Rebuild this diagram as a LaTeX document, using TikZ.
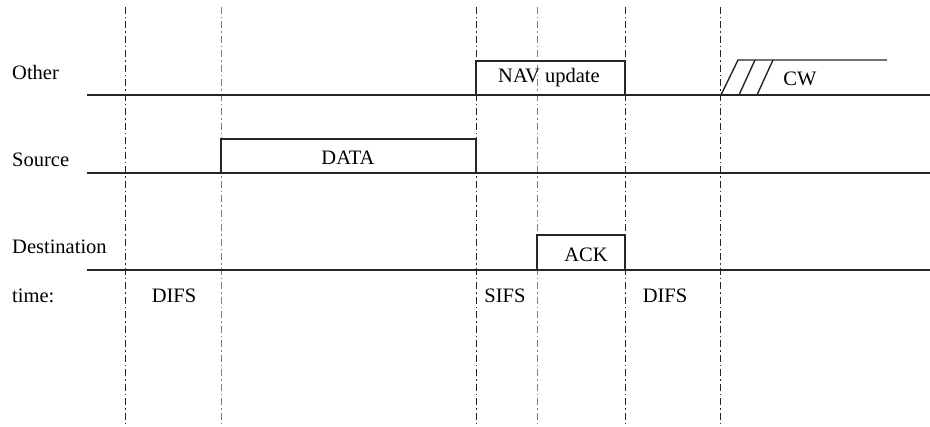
\documentclass[tikz,border=0pt]{standalone}
\usepackage{fontspec}
\setmainfont{Liberation Serif}
\begin{document}
\begin{tikzpicture}[x=1pt,y=-1pt,
  lbl/.style={inner sep=0pt,font=\fontsize{20.5}{24}\selectfont,text=black},
  axis/.style={line width=1.6pt,black!85},
  box/.style={line width=1.4pt,black!85},
  guide/.style={line width=0.9pt,dash pattern=on 7pt off 3pt on 1.5pt off 3pt},
]
\useasboundingbox (0,0) rectangle (930,427);
% guides
\foreach \x/\c in {125/black!85,221/black!50,476/black!85,537/black!50,625/black!85,720/black!85}
  \draw[guide,\c] (\x,7) -- (\x,424);
% baselines
\draw[axis] (87,95) -- (930,95);
\draw[axis] (87,173) -- (930,173);
\draw[axis] (87,270) -- (930,270);
% boxes
\draw[box] (476,95) -- (476,61) -- (625,61) -- (625,95);
\draw[box] (221,173) -- (221,139) -- (476,139) -- (476,173);
\draw[box] (537,270) -- (537,235) -- (625,235) -- (625,270);
% CW
\draw[box] (721,95) -- (738,60) -- (887,60);
\draw[box] (739,95) -- (755,60);
\draw[box] (757,95) -- (773,60);
% labels
\node[lbl,anchor=west] (other) at (12,72) {Other};
\node[lbl,anchor=west] (source) at (12,160) {Source};
\node[lbl,anchor=west] (dest) at (12,247) {Destination};
\node[lbl,anchor=west] (time) at (12,296) {time:};
\node[lbl] (difs1) at (174,296) {DIFS};
\node[lbl] (sifs) at (505,296) {SIFS};
\node[lbl] (difs2) at (665,296) {DIFS};
\node[lbl] (data) at (348,158) {DATA};
\node[lbl] (nav) at (549,78) {NAV update};
\node[lbl] (ack) at (586,255) {ACK};
\node[lbl] (cw) at (800,79) {CW};
\end{tikzpicture}
\end{document}
